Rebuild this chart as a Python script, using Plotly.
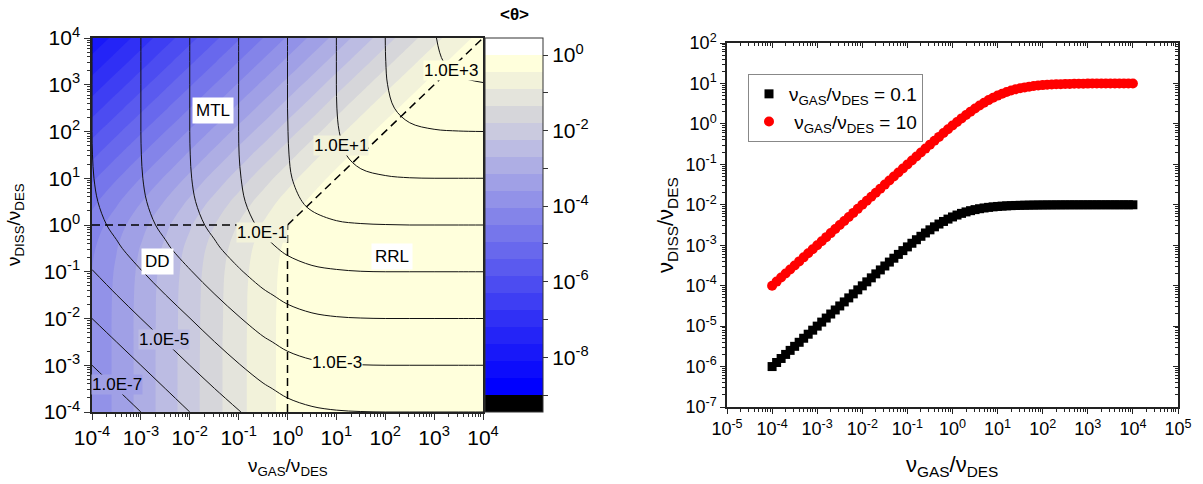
import plotly.graph_objects as go

W, H = 1203, 484

# ---------------- left panel data: log10 <theta> on a 0.5-decade grid ----------------
GRID_LOG = [-4.0, -3.5, -3.0, -2.5, -2.0, -1.5, -1.0, -0.5, 0.0, 0.5, 1.0, 1.5, 2.0, 2.5, 3.0, 3.5, 4.0]

# rows: log10(nu_DISS/nu_DES) (GRID_LOG order), columns: log10(nu_GAS/nu_DES)
LOG_THETA = [
    [-4.00, -3.50, -3.00, -2.50, -2.00, -1.51, -1.04, -0.62, -0.30, -0.12, -0.04, -0.01, 0.00, 0.00, 0.00, 0.00, 0.00],
    [-4.00, -3.50, -3.00, -2.50, -2.00, -1.51, -1.04, -0.62, -0.30, -0.12, -0.04, -0.01, 0.00, 0.00, 0.00, 0.00, 0.00],
    [-4.00, -3.50, -3.00, -2.50, -2.00, -1.51, -1.04, -0.62, -0.30, -0.12, -0.04, -0.01, 0.00, 0.00, 0.00, 0.00, 0.00],
    [-4.00, -3.50, -3.00, -2.50, -2.01, -1.51, -1.04, -0.62, -0.30, -0.12, -0.04, -0.01, 0.00, 0.00, 0.00, 0.00, 0.00],
    [-4.00, -3.50, -3.00, -2.51, -2.01, -1.52, -1.05, -0.62, -0.30, -0.12, -0.04, -0.01, 0.00, 0.00, 0.00, 0.00, 0.00],
    [-4.01, -3.51, -3.01, -2.51, -2.02, -1.53, -1.05, -0.63, -0.31, -0.12, -0.04, -0.01, 0.00, 0.00, 0.00, 0.00, 0.00],
    [-4.04, -3.54, -3.04, -2.54, -2.05, -1.55, -1.08, -0.65, -0.32, -0.13, -0.05, -0.01, 0.00, 0.00, 0.00, 0.00, 0.00],
    [-4.12, -3.62, -3.12, -2.62, -2.12, -1.63, -1.15, -0.71, -0.36, -0.15, -0.05, -0.02, -0.01, 0.00, 0.00, 0.00, 0.00],
    [-4.30, -3.80, -3.30, -2.80, -2.30, -1.81, -1.32, -0.86, -0.48, -0.21, -0.08, -0.03, -0.01, 0.00, 0.00, 0.00, 0.00],
    [-4.62, -4.12, -3.62, -3.12, -2.62, -2.12, -1.63, -1.15, -0.71, -0.36, -0.15, -0.05, -0.02, -0.01, 0.00, 0.00, 0.00],
    [-5.04, -4.54, -4.04, -3.54, -3.04, -2.54, -2.05, -1.55, -1.08, -0.65, -0.32, -0.13, -0.05, -0.01, 0.00, 0.00, 0.00],
    [-5.51, -5.01, -4.51, -4.01, -3.51, -3.01, -2.51, -2.02, -1.53, -1.05, -0.63, -0.31, -0.12, -0.04, -0.01, 0.00, 0.00],
    [-6.00, -5.50, -5.00, -4.50, -4.00, -3.50, -3.00, -2.51, -2.01, -1.52, -1.05, -0.62, -0.30, -0.12, -0.04, -0.01, 0.00],
    [-6.50, -6.00, -5.50, -5.00, -4.50, -4.00, -3.50, -3.00, -2.50, -2.01, -1.51, -1.04, -0.62, -0.30, -0.12, -0.04, -0.01],
    [-7.00, -6.50, -6.00, -5.50, -5.00, -4.50, -4.00, -3.50, -3.00, -2.50, -2.00, -1.51, -1.04, -0.62, -0.30, -0.12, -0.04],
    [-7.50, -7.00, -6.50, -6.00, -5.50, -5.00, -4.50, -4.00, -3.50, -3.00, -2.50, -2.00, -1.51, -1.04, -0.62, -0.30, -0.12],
    [-8.00, -7.50, -7.00, -6.50, -6.00, -5.50, -5.00, -4.50, -4.00, -3.50, -3.00, -2.50, -2.00, -1.51, -1.04, -0.62, -0.30],
]

# contour line levels (log10 of nu_DISS*<theta>) and their labels
LINE_LEVELS = [-7, -6, -5, -4, -3, -2, -1, 0, 1, 2, 3]
LINE_LABELS = ["1.0E-7", "1.0E-5", "1.0E-3", "1.0E-1", "1.0E+1", "1.0E+3"]
LINE_LABEL_POS = [(-3.49, -3.42), (-2.53, -2.44), (1.01, -2.95), (-0.52, -0.17), (1.09, 1.69), (3.34, 3.30)]
LINE_LABEL_BG = ["#A0A0E6", "#BCBCE3", "#FFFFDC", "#F2F2DA", "#F2F2DA", "#FFFFDC"]

# regime boundaries (dashed)
BOUND_DD_MTL = ([1e-4, 1.0], [1.0, 1.0])
BOUND_DD_RRL = ([1.0, 1.0], [1e-4, 1.0])
BOUND_MTL_RRL = ([1.0, 1e4], [1.0, 1e4])

REGIME_LABELS = ["MTL", "DD", "RRL"]
REGIME_POS = [(-1.53, 2.45), (-2.67, -0.79), (2.13, -0.68)]

# colour bands of <theta>: 22 bands from 10^-9.45 to 10^0.45
BAND_COLORS = ["#000000", "#0000FF", "#0C0CFC", "#1818F9", "#2424F7", "#3030F5", "#3E3EF3",
               "#4C4CF1", "#5A5AEF", "#6868ED", "#7676EB", "#8484E9", "#9292E8", "#A0A0E6",
               "#AEAEE4", "#BCBCE3", "#CACADF", "#D6D6DA", "#E4E4DC", "#F2F2DA", "#FFFFDC", "#FFFFFF"]

# ---------------- right panel data ----------------
X_RIGHT = [1.000e-4, 1.259e-4, 1.585e-4, 1.995e-4, 2.512e-4, 3.162e-4, 3.981e-4, 5.012e-4, 6.310e-4, 7.943e-4,
           1.000e-3, 1.259e-3, 1.585e-3, 1.995e-3, 2.512e-3, 3.162e-3, 3.981e-3, 5.012e-3, 6.310e-3, 7.943e-3,
           1.000e-2, 1.259e-2, 1.585e-2, 1.995e-2, 2.512e-2, 3.162e-2, 3.981e-2, 5.012e-2, 6.310e-2, 7.943e-2,
           1.000e-1, 1.259e-1, 1.585e-1, 1.995e-1, 2.512e-1, 3.162e-1, 3.981e-1, 5.012e-1, 6.310e-1, 7.943e-1,
           1.000, 1.259, 1.585, 1.995, 2.512, 3.162, 3.981, 5.012, 6.310, 7.943,
           10.00, 12.59, 15.85, 19.95, 25.12, 31.62, 39.81, 50.12, 63.10, 79.43,
           100.0, 125.9, 158.5, 199.5, 251.2, 316.2, 398.1, 501.2, 631.0, 794.3,
           1000., 1259., 1585., 1995., 2512., 3162., 3981., 5012., 6310., 7943.,
           10000.]

Y_RATIO_01 = [1.000e-6, 1.259e-6, 1.585e-6, 1.995e-6, 2.512e-6, 3.161e-6, 3.980e-6, 5.010e-6, 6.306e-6, 7.937e-6,
              9.990e-6, 1.257e-5, 1.582e-5, 1.991e-5, 2.506e-5, 3.152e-5, 3.965e-5, 4.987e-5, 6.270e-5, 7.880e-5,
              9.901e-5, 1.243e-4, 1.560e-4, 1.956e-4, 2.450e-4, 3.065e-4, 3.829e-4, 4.773e-4, 5.935e-4, 7.359e-4,
              9.091e-4, 1.118e-3, 1.368e-3, 1.663e-3, 2.008e-3, 2.402e-3, 2.847e-3, 3.339e-3, 3.869e-3, 4.427e-3,
              5.000e-3, 5.573e-3, 6.132e-3, 6.661e-3, 7.153e-3, 7.597e-3, 7.992e-3, 8.337e-3, 8.632e-3, 8.882e-3,
              9.091e-3, 9.264e-3, 9.407e-3, 9.523e-3, 9.617e-3, 9.693e-3, 9.755e-3, 9.804e-3, 9.844e-3, 9.876e-3,
              9.901e-3, 9.921e-3, 9.937e-3, 9.950e-3, 9.960e-3, 9.968e-3, 9.975e-3, 9.980e-3, 9.984e-3, 9.987e-3,
              9.990e-3, 9.992e-3, 9.994e-3, 9.995e-3, 9.996e-3, 9.997e-3, 9.997e-3, 9.998e-3, 9.998e-3, 9.999e-3,
              9.999e-3]

Y_RATIO_10 = [1.000e-4, 1.259e-4, 1.585e-4, 1.995e-4, 2.512e-4, 3.162e-4, 3.981e-4, 5.012e-4, 6.310e-4, 7.943e-4,
              9.999e-4, 1.259e-3, 1.585e-3, 1.995e-3, 2.511e-3, 3.161e-3, 3.979e-3, 5.009e-3, 6.306e-3, 7.937e-3,
              9.990e-3, 1.257e-2, 1.582e-2, 1.991e-2, 2.506e-2, 3.152e-2, 3.965e-2, 4.987e-2, 6.270e-2, 7.880e-2,
              9.901e-2, 0.1243, 0.1560, 0.1956, 0.2450, 0.3065, 0.3829, 0.4773, 0.5935, 0.7359,
              0.9091, 1.118, 1.368, 1.663, 2.008, 2.402, 2.847, 3.339, 3.869, 4.427,
              5.000, 5.573, 6.132, 6.661, 7.153, 7.597, 7.992, 8.337, 8.632, 8.882,
              9.091, 9.264, 9.407, 9.523, 9.617, 9.693, 9.755, 9.804, 9.844, 9.876,
              9.901, 9.921, 9.937, 9.950, 9.960, 9.968, 9.975, 9.980, 9.984, 9.987,
              9.990]

SERIES_NAMES = ["ν<sub>GAS</sub>/ν<sub>DES</sub> = 0.1", " ν<sub>GAS</sub>/ν<sub>DES</sub> = 10"]

# ---------------- helpers ----------------
FONT = "Liberation Sans, Arial, sans-serif"


def sup_label(p):
    return "10<sup>%d</sup>" % p


def px(x):
    return x / W


def py(y):
    return 1 - y / H


grid_vals = [10 ** g for g in GRID_LOG]
log_rate = [[LOG_THETA[j][i] + GRID_LOG[j] for i in range(len(GRID_LOG))] for j in range(len(GRID_LOG))]

n = len(BAND_COLORS)
colorscale = [[i / (n - 1), c] for i, c in enumerate(BAND_COLORS)]

fig = go.Figure()

# filled contour of <theta>
fig.add_trace(go.Contour(
    x=grid_vals, y=grid_vals, z=LOG_THETA,
    autocontour=False,
    contours=dict(start=-9, end=0, size=0.45, coloring="fill", showlines=False),
    colorscale=colorscale, zmin=-9.45, zmax=0.45,
    line=dict(width=0, smoothing=1),
    colorbar=dict(
        x=px(485), xanchor="left", xpad=0, ypad=0,
        y=py(412), yanchor="bottom", len=(412 - 38) / H, lenmode="fraction",
        thickness=58, thicknessmode="pixels",
        outlinewidth=1, outlinecolor="#333",
        tickmode="array",
        tickvals=list(range(-9, 1)),
        ticktext=[sup_label(v) if v % 2 == 0 else " " for v in range(-9, 1)],
        ticks="outside", ticklen=5, tickwidth=1, tickcolor="#333",
        tickfont=dict(family=FONT, size=21, color="black"),
    ),
    hoverinfo="skip", showlegend=False,
    xaxis="x", yaxis="y",
))

# contour lines of nu_DISS*<theta>
fig.add_trace(go.Contour(
    x=grid_vals, y=grid_vals, z=log_rate,
    autocontour=False,
    contours=dict(start=LINE_LEVELS[0], end=LINE_LEVELS[-1], size=1, coloring="none", showlines=True),
    line=dict(color="#111", width=1, smoothing=1),
    showscale=False, hoverinfo="skip", showlegend=False,
    xaxis="x", yaxis="y",
))

for bx, by in (BOUND_DD_MTL, BOUND_DD_RRL, BOUND_MTL_RRL):
    fig.add_trace(go.Scatter(
        x=bx, y=by, mode="lines", line=dict(color="black", width=1.5, dash="8px,5px"),
        showlegend=False, hoverinfo="skip", xaxis="x", yaxis="y",
    ))

# right panel series
fig.add_trace(go.Scatter(
    x=X_RIGHT, y=Y_RATIO_01, mode="markers", name=SERIES_NAMES[0],
    marker=dict(symbol="square", size=9, color="black"),
    xaxis="x2", yaxis="y2",
))
fig.add_trace(go.Scatter(
    x=X_RIGHT, y=Y_RATIO_10, mode="markers", name=SERIES_NAMES[1],
    marker=dict(symbol="circle", size=10, color="#FF0000"),
    xaxis="x2", yaxis="y2",
))
# dummy traces to activate mirrored inside-tick axes
fig.add_trace(go.Scatter(x=[], y=[], xaxis="x3", yaxis="y2", showlegend=False))
fig.add_trace(go.Scatter(x=[], y=[], xaxis="x2", yaxis="y3", showlegend=False))

tick_font_left = dict(family=FONT, size=21, color="black")
tick_font_right = dict(family=FONT, size=18, color="black")

left_common = dict(
    type="log", range=[-4, 4], tickmode="array",
    tickvals=[10 ** p for p in range(-4, 5)], ticktext=[sup_label(p) for p in range(-4, 5)],
    ticks="outside", ticklen=6, tickwidth=1, tickcolor="#333",
    minor=dict(ticks="outside", ticklen=3, tickwidth=1, tickcolor="#333", dtick="D1", showgrid=False),
    showline=True, linecolor="#222", linewidth=1.5, mirror=True,
    showgrid=False, zeroline=False, tickfont=tick_font_left, automargin=False,
)

right_common = dict(
    showline=True, linecolor="#222", linewidth=1.5,
    showgrid=False, zeroline=False, automargin=False,
)

fig.update_layout(
    width=W, height=H,
    margin=dict(l=0, r=0, t=0, b=0, autoexpand=False),
    paper_bgcolor="white", plot_bgcolor="white",
    font=dict(family=FONT, color="black"),
    xaxis=dict(domain=[px(92), px(483)], anchor="y", **left_common),
    yaxis=dict(domain=[py(412), py(38)], anchor="x", **left_common),
    xaxis2=dict(
        domain=[px(727), px(1178)], anchor="y2",
        type="log", range=[-5, 5], tickmode="array",
        tickvals=[10 ** p for p in range(-5, 6)], ticktext=[sup_label(p) for p in range(-5, 6)],
        ticks="outside", ticklen=5, tickwidth=1, tickcolor="#222",
        minor=dict(ticks="outside", ticklen=3, tickwidth=1, tickcolor="#222", dtick="D1", showgrid=False),
        tickfont=tick_font_right, **right_common,
    ),
    yaxis2=dict(
        domain=[py(407), py(43)], anchor="x2",
        type="log", range=[-7, 2], tickmode="array",
        tickvals=[10 ** p for p in range(-7, 3)], ticktext=[sup_label(p) for p in range(-7, 3)],
        ticks="outside", ticklen=5, tickwidth=1, tickcolor="#222",
        minor=dict(ticks="outside", ticklen=3, tickwidth=1, tickcolor="#222", dtick="D1", showgrid=False),
        tickfont=tick_font_right, **right_common,
    ),
    xaxis3=dict(
        overlaying="x2", anchor="y2", side="top",
        type="log", range=[-5, 5], tickmode="array",
        tickvals=[10 ** p for p in range(-5, 6)], showticklabels=False,
        ticks="inside", ticklen=5, tickwidth=1, tickcolor="#222",
        minor=dict(ticks="inside", ticklen=3, tickwidth=1, tickcolor="#222", dtick="D1", showgrid=False),
        **right_common,
    ),
    yaxis3=dict(
        overlaying="y2", anchor="x2", side="right",
        type="log", range=[-7, 2], tickmode="array",
        tickvals=[10 ** p for p in range(-7, 3)], showticklabels=False,
        ticks="inside", ticklen=5, tickwidth=1, tickcolor="#222",
        minor=dict(ticks="inside", ticklen=3, tickwidth=1, tickcolor="#222", dtick="D1", showgrid=False),
        **right_common,
    ),
    legend=dict(
        x=px(748), y=py(74), xanchor="left", yanchor="top",
        bgcolor="white", bordercolor="#888", borderwidth=1,
        font=dict(family=FONT, size=19, color="black"),
        tracegroupgap=0,
    ),
    showlegend=True,
)

annotations = []
# contour level labels
for txt, (lx, ly), bg in zip(LINE_LABELS, LINE_LABEL_POS, LINE_LABEL_BG):
    annotations.append(dict(
        x=lx, y=ly, xref="x", yref="y", text=txt, showarrow=False,
        xanchor="center", yanchor="middle",
        font=dict(family=FONT, size=17, color="black"), bgcolor=bg, borderpad=0,
    ))
# regime labels
for txt, (lx, ly) in zip(REGIME_LABELS, REGIME_POS):
    annotations.append(dict(
        x=lx, y=ly, xref="x", yref="y", text=txt, showarrow=False,
        xanchor="center", yanchor="middle",
        font=dict(family=FONT, size=17, color="black"), bgcolor="white", borderpad=3,
    ))
# axis titles and colorbar title
paper_text = [
    (288, 467, 0, "ν<sub>GAS</sub>/ν<sub>DES</sub>", 19, False),
    (15, 225, -90, "ν<sub>DISS</sub>/ν<sub>DES</sub>", 19, False),
    (514, 15, 0, "&lt;θ&gt;", 17, True),
    (952, 466, 0, "ν<sub>GAS</sub>/ν<sub>DES</sub>", 22, False),
    (667, 225, -90, "ν<sub>DISS</sub>/ν<sub>DES</sub>", 22, False),
]
for x0, y0, ang, txt, size, bold in paper_text:
    annotations.append(dict(
        x=px(x0), y=py(y0), xref="paper", yref="paper", showarrow=False,
        xanchor="center", yanchor="middle", textangle=ang,
        text=("<b>%s</b>" % txt) if bold else txt, font=dict(family=FONT, size=size, color="black"),
    ))
fig.update_layout(annotations=annotations)

# the page is photographed from its top-left corner: remove the default body margin
fig.write_html("out.html", config={"displayModeBar": False},
               post_script="document.body.style.margin='0px';")
